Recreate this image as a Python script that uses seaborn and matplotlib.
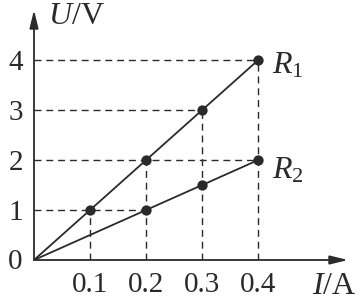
import matplotlib
matplotlib.use("Agg")
import matplotlib.pyplot as plt
import seaborn as sns
import pandas as pd

sns.set_theme(style="white")
plt.rcParams['font.family'] = ['Liberation Serif', 'DejaVu Serif']
plt.rcParams['mathtext.fontset'] = 'custom'
plt.rcParams['mathtext.rm'] = 'Liberation Serif'
plt.rcParams['mathtext.it'] = 'Liberation Serif:italic'

# Data
current_r1 = [0.0, 0.1, 0.2, 0.3, 0.4]
voltage_r1 = [0.0, 1.0, 2.0, 3.0, 4.0]
current_r2 = [0.0, 0.2, 0.3, 0.4]
voltage_r2 = [0.0, 1.0, 1.5, 2.0]
x_ticks = [0.1, 0.2, 0.3, 0.4]
y_ticks = [1, 2, 3, 4]
series_labels = ["$R_1$", "$R_2$"]

df = pd.concat([
    pd.DataFrame({"I": current_r1, "U": voltage_r1, "R": "R1"}),
    pd.DataFrame({"I": current_r2, "U": voltage_r2, "R": "R2"}),
])
pts = df[df["I"] > 0]

fig = plt.figure(figsize=(3.6, 3.0), dpi=100)
ax = fig.add_axes([34/360, 40/300, 314/360, 250/300])
ax.set_xlim(0, 0.56)
ax.set_ylim(0, 5.0)

ink = "#2a2a2a"
# dashed guide lines
dash = dict(color=ink, lw=1.0, ls=(0, (5, 3.5)), zorder=1)
ax.plot([0, 0.4], [4, 4], **dash)
ax.plot([0, 0.3], [3, 3], **dash)
ax.plot([0, 0.4], [2, 2], **dash)
ax.plot([0, 0.2], [1, 1], **dash)
for xv, yv in [(0.1, 1), (0.2, 2), (0.3, 3), (0.4, 4)]:
    ax.plot([xv, xv], [0, yv], **dash)

sns.lineplot(data=df, x="I", y="U", units="R", estimator=None, sort=False,
             color=ink, lw=1.3, ax=ax, legend=False, zorder=2)
sns.scatterplot(data=pts, x="I", y="U", color=ink, s=55, edgecolor=ink,
                linewidth=0, ax=ax, legend=False, zorder=3)

for s in ax.spines.values():
    s.set_visible(False)
ax.set_xlabel("")
ax.set_ylabel("")
ax.set_xticks(x_ticks)
ax.set_yticks(y_ticks)
ax.set_xticklabels([f"{v:g}" for v in x_ticks], fontsize=21, color=ink)
ax.set_yticklabels([str(v) for v in y_ticks], fontsize=21, color=ink)
ax.tick_params(length=0)
ax.tick_params(axis='x', pad=9)
ax.tick_params(axis='y', pad=8)

# axes with arrows
ax.annotate("", xy=(0.56, 0), xytext=(0, 0), annotation_clip=False,
            arrowprops=dict(arrowstyle="-|>,head_length=0.9,head_width=0.22",
                            color=ink, lw=1.3, shrinkA=0, shrinkB=0))
ax.annotate("", xy=(0, 5.0), xytext=(0, 0), annotation_clip=False,
            arrowprops=dict(arrowstyle="-|>,head_length=0.9,head_width=0.22",
                            color=ink, lw=1.3, shrinkA=0, shrinkB=0))

ax.text(-0.034, -0.04, "0", fontsize=21, color=ink, ha="center", va="center")
ax.text(0.025, 4.86, "$U$/V", fontsize=23, color=ink, ha="left", va="center")
ax.text(0.496, -0.52, "$I$/A", fontsize=23, color=ink, ha="left", va="center")
ax.text(0.425, 3.88, series_labels[0], fontsize=23, color=ink, ha="left", va="center")
ax.text(0.425, 1.78, series_labels[1], fontsize=23, color=ink, ha="left", va="center")

fig.savefig("out.png", dpi=100)
